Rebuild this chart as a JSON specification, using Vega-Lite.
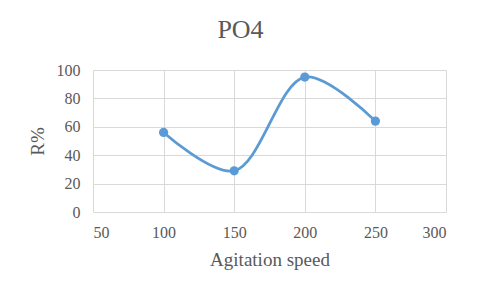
{
  "$schema": "https://vega.github.io/schema/vega-lite/v6.json",
  "width": 353,
  "height": 142,
  "autosize": {"type": "none"},
  "padding": {"left": 93, "top": 70, "right": 34, "bottom": 83},
  "background": "white",
  "title": {
    "text": "PO4",
    "font": "Liberation Serif",
    "fontSize": 26,
    "fontWeight": "normal",
    "color": "#595959",
    "anchor": "middle",
    "dx": -29,
    "offset": 19
  },
  "data": {
    "values": [
      {"speed": 100, "R": 56},
      {"speed": 150, "R": 29},
      {"speed": 200, "R": 95},
      {"speed": 250, "R": 64}
    ]
  },
  "encoding": {
    "x": {
      "field": "speed",
      "type": "quantitative",
      "scale": {"domain": [50, 300], "nice": false, "zero": false},
      "axis": {"values": [50, 100, 150, 200, 250, 300], "title": "Agitation speed", "titlePadding": 10}
    },
    "y": {
      "field": "R",
      "type": "quantitative",
      "scale": {"domain": [0, 100], "nice": false},
      "axis": {"values": [0, 20, 40, 60, 80, 100], "title": "R%", "titlePadding": 9}
    }
  },
  "layer": [
    {"mark": {"type": "line", "interpolate": "catmull-rom", "color": "#5b9bd5", "strokeWidth": 2.75}},
    {"mark": {"type": "point", "filled": true, "opacity": 1, "color": "#5b9bd5", "size": 85}}
  ],
  "config": {
    "view": {"stroke": null},
    "axis": {
      "domain": false,
      "ticks": false,
      "grid": true,
      "gridColor": "#d9d9d9",
      "gridWidth": 1,
      "labelFont": "Liberation Serif",
      "labelFontSize": 16,
      "labelColor": "#595959",
      "titleFont": "Liberation Serif",
      "titleFontSize": 19,
      "titleFontWeight": "normal",
      "titleColor": "#595959"
    },
    "axisX": {"labelPadding": 12},
    "axisY": {"labelPadding": 13}
  }
}
